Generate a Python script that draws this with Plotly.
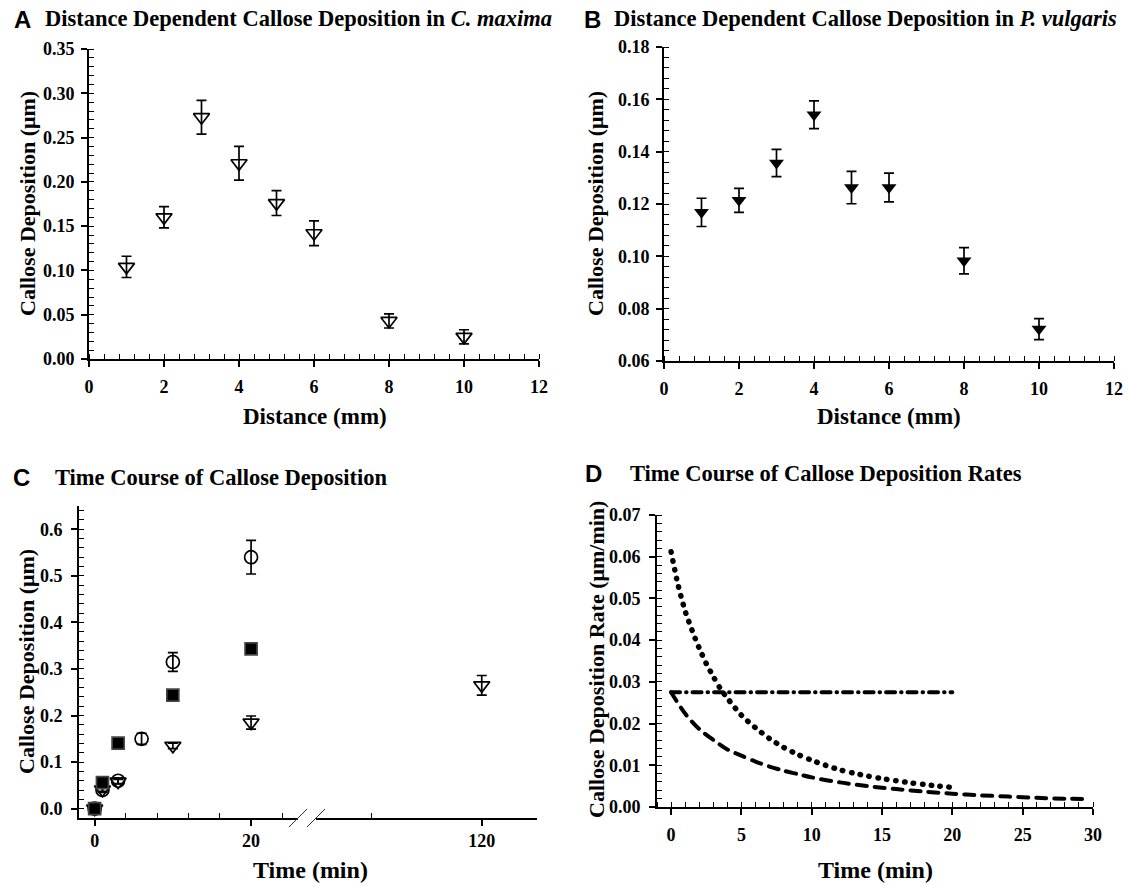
import plotly.graph_objects as go

# ---------------- data ----------------
# Panel A: C. maxima
dist_a = [1, 2, 3, 4, 5, 6, 8, 10]
dep_a = [0.104, 0.160, 0.273, 0.221, 0.176, 0.142, 0.043, 0.025]
err_a = [0.012, 0.012, 0.019, 0.019, 0.014, 0.014, 0.008, 0.008]

# Panel B: P. vulgaris
dist_b = [1, 2, 3, 4, 5, 6, 8, 10]
dep_b = [0.1168, 0.1214, 0.1357, 0.1541, 0.1263, 0.1263, 0.0983, 0.0722]
err_b = [0.0054, 0.0046, 0.0052, 0.0053, 0.0062, 0.0055, 0.0050, 0.0040]

# Panel C: time course
t_circ = [0, 1, 3, 6, 10, 20]
v_circ = [0.0, 0.040, 0.060, 0.150, 0.315, 0.540]
e_circ = [0.0, 0.005, 0.006, 0.012, 0.020, 0.036]
t_sq = [0, 1, 3, 10, 20]
v_sq = [0.0, 0.056, 0.141, 0.244, 0.343]
t_tri = [0, 1, 3, 10, 20, 120]
v_tri = [0.0, 0.041, 0.058, 0.135, 0.185, 0.265]
e_tri = [0.0, 0.004, 0.005, 0.006, 0.014, 0.021]
BREAK_T = 28  # times above this are drawn on the right-hand axis segment

# Panel D: deposition rates
t_dot = [0, 0.5, 1, 1.5, 2, 2.5, 3, 3.5, 4, 5, 6, 7, 8, 9, 10, 11, 12, 13, 14, 15, 16, 17, 18, 19, 20]
r_dot = [0.0612, 0.0532, 0.0470, 0.0423, 0.0381, 0.0344, 0.0313, 0.0284, 0.0261, 0.0220, 0.0190,
         0.0164, 0.0143, 0.0126, 0.0112, 0.0100, 0.0089, 0.0081, 0.0074, 0.0068, 0.0063, 0.0058,
         0.0054, 0.0050, 0.0047]
t_dash = [0, 1, 2, 3, 4, 5, 6, 7, 8, 9, 10, 12, 14, 16, 18, 20, 22, 24, 26, 28, 29.5]
r_dash = [0.0275, 0.0224, 0.0187, 0.0161, 0.0138, 0.0123, 0.0109, 0.0097, 0.0087, 0.0079, 0.0071,
          0.0059, 0.0050, 0.0043, 0.0037, 0.0032, 0.0028, 0.0025, 0.0022, 0.0020, 0.0019]
t_const = [0, 20]
r_const = [0.0275, 0.0275]

# ---------------- layout helpers ----------------
W, H = 1129, 886
def fx(p):
    return p / W
def fy(p):
    return 1 - p / H

SERIF = "Liberation Serif"
SANS = "Liberation Sans"
TICKFONT = dict(family=SERIF, size=18, color="black", weight="bold")

def axis_style(**kw):
    d = dict(showline=True, linecolor="black", linewidth=2, showgrid=False, zeroline=False,
             ticks="outside", ticklen=6, tickwidth=1.5, tickcolor="black", tickfont=TICKFONT,
             fixedrange=True, automargin=False)
    d.update(kw)
    return d

def minor(dtick=None, tickvals=None, ticklen=5):
    m = dict(ticks="inside", ticklen=ticklen, tickwidth=1, tickcolor="black", showgrid=False)
    if dtick is not None:
        m["dtick"] = dtick
    if tickvals is not None:
        m["tickmode"] = "array"
        m["tickvals"] = tickvals
    return m

fig = go.Figure()

ebar = dict(type="data", visible=True, color="black", thickness=1.7, width=5)

# Panel A
fig.add_trace(go.Scatter(x=dist_a, y=dep_a, mode="markers", xaxis="x", yaxis="y",
                         marker=dict(symbol="triangle-down-open", size=14, color="black", line=dict(width=1.7)),
                         error_y=dict(array=err_a, **ebar), showlegend=False))
# Panel B
fig.add_trace(go.Scatter(x=dist_b, y=dep_b, mode="markers", xaxis="x2", yaxis="y2",
                         marker=dict(symbol="triangle-down", size=13, color="black"),
                         error_y=dict(array=err_b, **ebar), showlegend=False))

# Panel C (broken axis: left segment x3, right segment x4)
def split(ts, vs, es=None):
    left = [(t, v, (es[i] if es else 0)) for i, (t, v) in enumerate(zip(ts, vs)) if t <= BREAK_T]
    right = [(t, v, (es[i] if es else 0)) for i, (t, v) in enumerate(zip(ts, vs)) if t > BREAK_T]
    return left, right

for ts, vs, es, sym, sz in [(t_circ, v_circ, e_circ, "circle-open", 13),
                            (t_tri, v_tri, e_tri, "triangle-down-open", 14),
                            (t_sq, v_sq, None, "square", 12)]:
    left, right = split(ts, vs, es)
    for part, xa in [(left, "x3"), (right, "x4")]:
        if not part:
            continue
        kw = {}
        if es is not None:
            kw["error_y"] = dict(array=[p[2] for p in part], **ebar)
        fig.add_trace(go.Scatter(x=[p[0] for p in part], y=[p[1] for p in part], mode="markers",
                                 xaxis=xa, yaxis="y3",
                                 marker=dict(symbol=sym, size=sz, color="black", line=dict(width=1.7)),
                                 showlegend=False, **kw))

# Panel D
fig.add_trace(go.Scatter(x=t_const, y=r_const, mode="lines", xaxis="x5", yaxis="y5",
                         line=dict(color="black", width=4, dash="9px,6px,0.5px,6px"), showlegend=False))
fig.add_trace(go.Scatter(x=t_dash, y=r_dash, mode="lines", xaxis="x5", yaxis="y5",
                         line=dict(color="black", width=4, dash="10px,8px", shape="spline", smoothing=0.8),
                         showlegend=False))
fig.add_trace(go.Scatter(x=t_dot, y=r_dot, mode="lines", xaxis="x5", yaxis="y5",
                         line=dict(color="black", width=5.5, dash="0.5px,8.5px", shape="spline", smoothing=0.8),
                         showlegend=False))

# ---------------- axes ----------------
layout = dict(
    width=W, height=H, margin=dict(l=0, r=0, t=0, b=0, autoexpand=False),
    paper_bgcolor="white", plot_bgcolor="white",
    # A
    xaxis=axis_style(domain=[fx(89), fx(539)], range=[0, 12], dtick=2, tick0=0, anchor="y",
                     minor=minor(dtick=0.4), ticklabelstandoff=4),
    yaxis=axis_style(domain=[fy(359), fy(49)], range=[0, 0.35], dtick=0.05, tick0=0, tickformat=".2f",
                     anchor="x", minor=minor(dtick=0.01), ticklabelstandoff=3),
    # B
    xaxis2=axis_style(domain=[fx(664), fx(1114)], range=[0, 12], dtick=2, tick0=0, anchor="y2",
                      minor=minor(dtick=0.4), ticklabelstandoff=4),
    yaxis2=axis_style(domain=[fy(361), fy(47)], range=[0.06, 0.18], dtick=0.02, tick0=0.06, tickformat=".2f",
                      anchor="x2", minor=minor(dtick=0.004), ticklabelstandoff=3),
    # C left
    xaxis3=axis_style(domain=[fx(79), fx(298)], range=[-2, 26], tickmode="array", tickvals=[0, 20],
                      anchor="y3", minor=minor(tickvals=[4, 8, 12, 16, 24]), ticklabelstandoff=-1),
    # C right
    xaxis4=axis_style(domain=[fx(316), fx(537)], range=[30, 150], tickmode="array", tickvals=[120],
                      anchor="y3", minor=minor(tickvals=[60]), ticklabelstandoff=-1),
    yaxis3=axis_style(domain=[fy(818), fy(506)], range=[-0.02, 0.65], dtick=0.1, tick0=0, tickformat=".1f",
                      anchor="x3", minor=minor(dtick=0.02, ticklen=5), ticklabelstandoff=5),
    # D
    xaxis5=axis_style(domain=[fx(657), fx(1093)], range=[-1, 30], dtick=5, tick0=0, anchor="y5",
                      minor=minor(dtick=1), ticklabelstandoff=4),
    yaxis5=axis_style(domain=[fy(807), fy(515)], range=[0, 0.07], dtick=0.01, tick0=0, tickformat=".2f",
                      anchor="x5", minor=minor(dtick=0.002), ticklabelstandoff=5),
)
fig.update_layout(**layout)

# ---------------- text ----------------
ann = []
def text(x, y, s, size, family=SERIF, angle=0, xanchor="center"):
    ann.append(dict(x=fx(x), y=fy(y), xref="paper", yref="paper", text=s, showarrow=False,
                    xanchor=xanchor, yanchor="middle", textangle=angle,
                    font=dict(family=family, size=size, color="black", weight="bold")))

# panel letters
text(12, 19, "A", 24, SANS, xanchor="left")
text(582, 19, "B", 24, SANS, xanchor="left")
text(11, 477, "C", 24, SANS, xanchor="left")
text(583, 473, "D", 24, SANS, xanchor="left")
# titles
text(43, 18, "Distance Dependent Callose Deposition in <i>C. maxima</i>", 22.5, xanchor="left")
text(612, 18, "Distance Dependent Callose Deposition in <i>P. vulgaris</i>", 22.5, xanchor="left")
text(53, 477, "Time Course of Callose Deposition", 22.5, xanchor="left")
text(628, 473, "Time Course of Callose Deposition Rates", 22.5, xanchor="left")
# axis titles
text(27, 204, "Callose Deposition (μm)", 22, angle=-90)
text(595, 204, "Callose Deposition (μm)", 22, angle=-90)
text(26, 662, "Callose Deposition (μm)", 22, angle=-90)
text(596, 660, "Callose Deposition Rate (μm/min)", 22, angle=-90)
text(315, 416, "Distance (mm)", 23)
text(889, 416, "Distance (mm)", 23)
text(310, 870, "Time (min)", 24)
text(875, 870, "Time (min)", 24)
fig.update_layout(annotations=ann)

# break marks on panel C x-axis
for x0 in (289, 307):
    fig.add_shape(type="line", xref="paper", yref="paper", x0=fx(x0), y0=fy(827), x1=fx(x0 + 18), y1=fy(809),
                  line=dict(color="#333333", width=1))

post = ("document.body.style.margin='0';document.body.style.padding='0';"
        "var s=document.createElement('style');"
        "s.innerHTML='html,body{margin:0;padding:0;overflow:hidden;} .scatterlayer .js-line{stroke-linecap:round;}';"
        "document.head.appendChild(s);")
fig.write_html("out.html", post_script=post, config={"displayModeBar": False})
